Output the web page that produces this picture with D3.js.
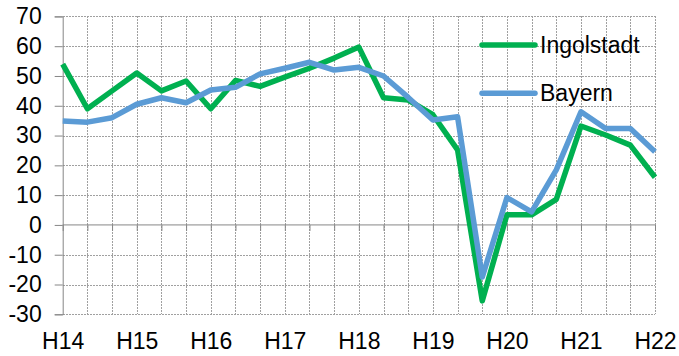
<!DOCTYPE html>
<html>
<head>
<meta charset="utf-8">
<script src="https://cdn.jsdelivr.net/npm/d3@7"></script>
<style>
  html, body { margin: 0; padding: 0; background: #fff; }
  svg { display: block; font-family: "Liberation Sans", Arial, sans-serif; }
</style>
</head>
<body>
<svg id="chart" width="679" height="356"></svg>
<script>
// Periods: three per year from 2014 to the first period of 2022
const periods = [
  "14-1","14-2","14-3","15-1","15-2","15-3","16-1","16-2","16-3",
  "17-1","17-2","17-3","18-1","18-2","18-3","19-1","19-2","19-3",
  "20-1","20-2","20-3","21-1","21-2","21-3","22-1"
];
const ingolstadt = [
  54, 39, 45, 51, 45, 48.3, 39, 48.5, 46.5, 49.6, 52.6, 56, 59.7,
  42.7, 41.9, 37, 25.2, -25.5, 3.4, 3.4, 8.6, 33.2, 30.2, 26.8, 16
];
const bayern = [
  34.9, 34.5, 36, 40.5, 42.7, 41, 45.3, 46.2, 50.7, 52.6, 54.6, 52, 52.9,
  50, 42.8, 35.2, 36.3, -17.5, 9.2, 4.4, 18.5, 38, 32.4, 32.4, 24.6
];
const yTicks = [-30, -20, -10, 0, 10, 20, 30, 40, 50, 60, 70];
const seriesNames = ["Ingolstadt", "Bayern"];
const seriesColors = ["#00b050", "#5b9bd5"];

const svg = d3.select("#chart");
const plot = { left: 62.7, right: 655, top: 16.4, bottom: 314.3 };

const x = d3.scalePoint().domain(periods).range([plot.left, plot.right]);
const y = d3.scaleLinear().domain([-30, 70]).range([plot.bottom, plot.top]);

// Dotted grid
const grid = svg.append("g").attr("stroke", "#a0a0a0").attr("stroke-width", 1)
  .attr("stroke-dasharray", "2,1").attr("shape-rendering", "crispEdges");
grid.selectAll("line.h").data(yTicks.filter(v => v !== 0)).join("line")
  .attr("class", "h")
  .attr("x1", plot.left).attr("x2", plot.right)
  .attr("y1", d => Math.round(y(d)) + 0.5).attr("y2", d => Math.round(y(d)) + 0.5);
grid.selectAll("line.v").data(periods.slice(1)).join("line")
  .attr("class", "v")
  .attr("y1", plot.top).attr("y2", plot.bottom)
  .attr("x1", d => Math.round(x(d)) + 0.5).attr("x2", d => Math.round(x(d)) + 0.5);

// Y axis with outward ticks; plain hyphen for negatives
const yAxis = d3.axisLeft(y).tickValues(yTicks).tickSize(8).tickPadding(13)
  .tickFormat(d => String(d));
const gy = svg.append("g").attr("transform", `translate(${plot.left},0)`).call(yAxis);
gy.select(".domain").attr("stroke", "#868686");
gy.selectAll(".tick line").attr("stroke", "#868686");
gy.selectAll(".tick text").attr("font-size", 23).attr("fill", "#000")
  .attr("font-family", "Liberation Sans, Arial, sans-serif");

// Zero line with small ticks at each period
const x0 = d3.axisBottom(x).tickSize(6).tickFormat("");
const gx0 = svg.append("g").attr("transform", `translate(0,${y(0)})`).call(x0);
gx0.select(".domain").attr("stroke", "#868686").attr("d", `M${plot.left},0H${plot.right}`);
gx0.selectAll(".tick line").attr("stroke", "#868686");

// Period labels along the bottom, one per year
const labelAxis = d3.axisBottom(x).tickSize(0).tickPadding(0)
  .tickFormat((d, i) => i % 3 === 0 ? "H" + d.slice(0, 2) : "");
const gl = svg.append("g").attr("transform", `translate(0,${plot.bottom})`).call(labelAxis);
gl.select(".domain").remove();
gl.selectAll(".tick text").attr("font-size", 23).attr("fill", "#000")
  .attr("font-family", "Liberation Sans, Arial, sans-serif")
  .attr("dy", null).attr("y", 35);

// Series lines
const line = d3.line().x((d, i) => x(periods[i])).y(d => y(d));
[ingolstadt, bayern].forEach((vals, k) => {
  svg.append("path").datum(vals)
    .attr("fill", "none").attr("stroke", seriesColors[k])
    .attr("stroke-width", 5.5).attr("stroke-linejoin", "round")
    .attr("d", line);
});

// Legend
const legend = svg.append("g");
seriesNames.forEach((name, k) => {
  const ly = 45 + k * 48.3;
  legend.append("line").attr("x1", 482).attr("x2", 535).attr("y1", ly).attr("y2", ly)
    .attr("stroke", seriesColors[k]).attr("stroke-width", 5.5).attr("stroke-linecap", "round");
  legend.append("text").attr("x", 540).attr("y", ly).attr("dy", "0.35em")
    .attr("font-size", 23).attr("fill", "#000").text(name);
});
</script>
</body>
</html>
